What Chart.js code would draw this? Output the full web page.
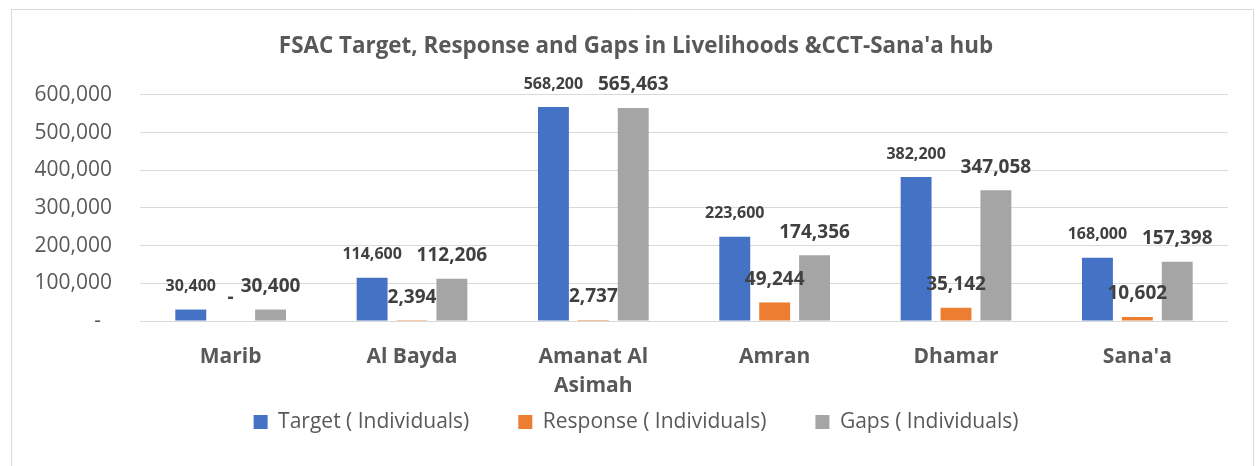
<!DOCTYPE html>
<html>
<head>
<meta charset="utf-8">
<script src="https://cdn.jsdelivr.net/npm/chart.js@4.4.1/dist/chart.umd.min.js"></script>
<style>
  body { margin: 0; background: #fff; }
</style>
</head>
<body>
<canvas id="fsac-bar-graph" width="1259" height="466"></canvas>
<script>
let categories = ["Marib", "Al Bayda", ["Amanat Al", "Asimah"], "Amran", "Dhamar", "Sana'a"];
let target_values = [30400, 114600, 568200, 223600, 382200, 168000];
let response_values = [0, 2394, 2737, 49244, 35142, 10602];
let gaps_values = [30400, 112206, 565463, 174356, 347058, 157398];
let y_ticks = [0, 100000, 200000, 300000, 400000, 500000, 600000];

let blue = "#4472C4";
let orange = "#ED7D31";
let grey = "#A5A5A5";
let text_grey = "#595959";
let label_grey = "#404040";
let font_family = "'Open Sans', 'Noto Sans', sans-serif";

function fmt(v){
  if (v === 0) return "-";
  return v.toLocaleString("en-US");
}

// white background + light frame around the chart
let framePlugin = {
  id: "frame",
  beforeDraw(chart){
    let ctx = chart.ctx;
    ctx.save();
    ctx.fillStyle = "#fff";
    ctx.fillRect(0, 0, chart.width, chart.height);
    ctx.strokeStyle = "#D9D9D9";
    ctx.lineWidth = 1;
    ctx.beginPath();
    ctx.moveTo(11.5, 470);
    ctx.lineTo(11.5, 9.5);
    ctx.lineTo(1253.5, 9.5);
    ctx.lineTo(1253.5, 470);
    ctx.stroke();
    ctx.restore();
  },
  // centre title + legend on the whole frame, pull legend up under the axis labels
  afterLayout(chart){
    if (chart.titleBlock) chart.titleBlock.left = 44;
    let lg = chart.legend;
    if (lg) {
      lg.left = 44;
      let h = lg.bottom - lg.top;
      lg.top = 362.5;
      lg.bottom = lg.top + h;
    }
  }
};

// value labels above each bar
let valueLabels = {
  id: "valueLabels",
  afterDatasetsDraw(chart){
    let ctx = chart.ctx;
    ctx.save();
    ctx.textAlign = "center";
    ctx.textBaseline = "middle";
    ctx.fillStyle = label_grey;
    chart.data.datasets.forEach((ds, i) => {
      let meta = chart.getDatasetMeta(i);
      let size = i === 0 ? 16 : 19;
      ctx.font = "bold " + size + "px " + font_family;
      meta.data.forEach((bar, j) => {
        ctx.fillText(fmt(ds.data[j]), bar.x, bar.y - 23);
      });
    });
    ctx.restore();
  }
};

function fsac_bar_graph(){
  let ctx = document.getElementById("fsac-bar-graph").getContext("2d");
  let newBar = new Chart(ctx, {
    type: "bar",
    data: {
      labels: categories,
      datasets: [
        { label: "Target ( Individuals)", data: target_values, backgroundColor: blue, borderWidth: 0 },
        { label: "Response ( Individuals)", data: response_values, backgroundColor: orange, borderWidth: 0 },
        { label: "Gaps ( Individuals)", data: gaps_values, backgroundColor: grey, borderWidth: 0 }
      ]
    },
    options: {
      responsive: false,
      animation: false,
      devicePixelRatio: 1,
      categoryPercentage: 0.66,
      barPercentage: 0.775,
      layout: {
        padding: { left: 0, right: 31, top: 0, bottom: -15 }
      },
      plugins: {
        title: {
          display: true,
          text: "FSAC Target, Response and Gaps in Livelihoods &CCT-Sana'a hub",
          color: text_grey,
          font: { family: font_family, size: 22.4, weight: "bold", lineHeight: 1.2 },
          padding: { top: 33.6, bottom: 34.5 }
        },
        legend: {
          position: "bottom",
          labels: {
            color: text_grey,
            font: { family: font_family, size: 21 },
            boxWidth: 14,
            boxHeight: 14,
            padding: 49
          }
        },
        tooltip: { enabled: false }
      },
      scales: {
        x: {
          grid: { display: false },
          border: { display: false },
          ticks: {
            color: text_grey,
            padding: 14,
            maxRotation: 0,
            autoSkip: false,
            font: { family: font_family, size: 21, weight: "bold", lineHeight: 1.36 }
          },
          afterFit(scale){ scale.height = 80; }
        },
        y: {
          min: 0,
          max: 600000,
          grid: { color: "#D9D9D9", lineWidth: 1, drawTicks: false },
          border: { display: false },
          afterBuildTicks(scale){ scale.ticks = y_ticks.map(v => ({ value: v })); },
          ticks: {
            color: text_grey,
            padding: 28,
            font: { family: font_family, size: 21 },
            callback: function(v){ return v === 0 ? "-  " : v.toLocaleString("en-US"); }
          },
          afterFit(scale){ scale.width = 140; }
        }
      }
    },
    plugins: [framePlugin, valueLabels]
  });
}

fsac_bar_graph();
</script>
</body>
</html>
